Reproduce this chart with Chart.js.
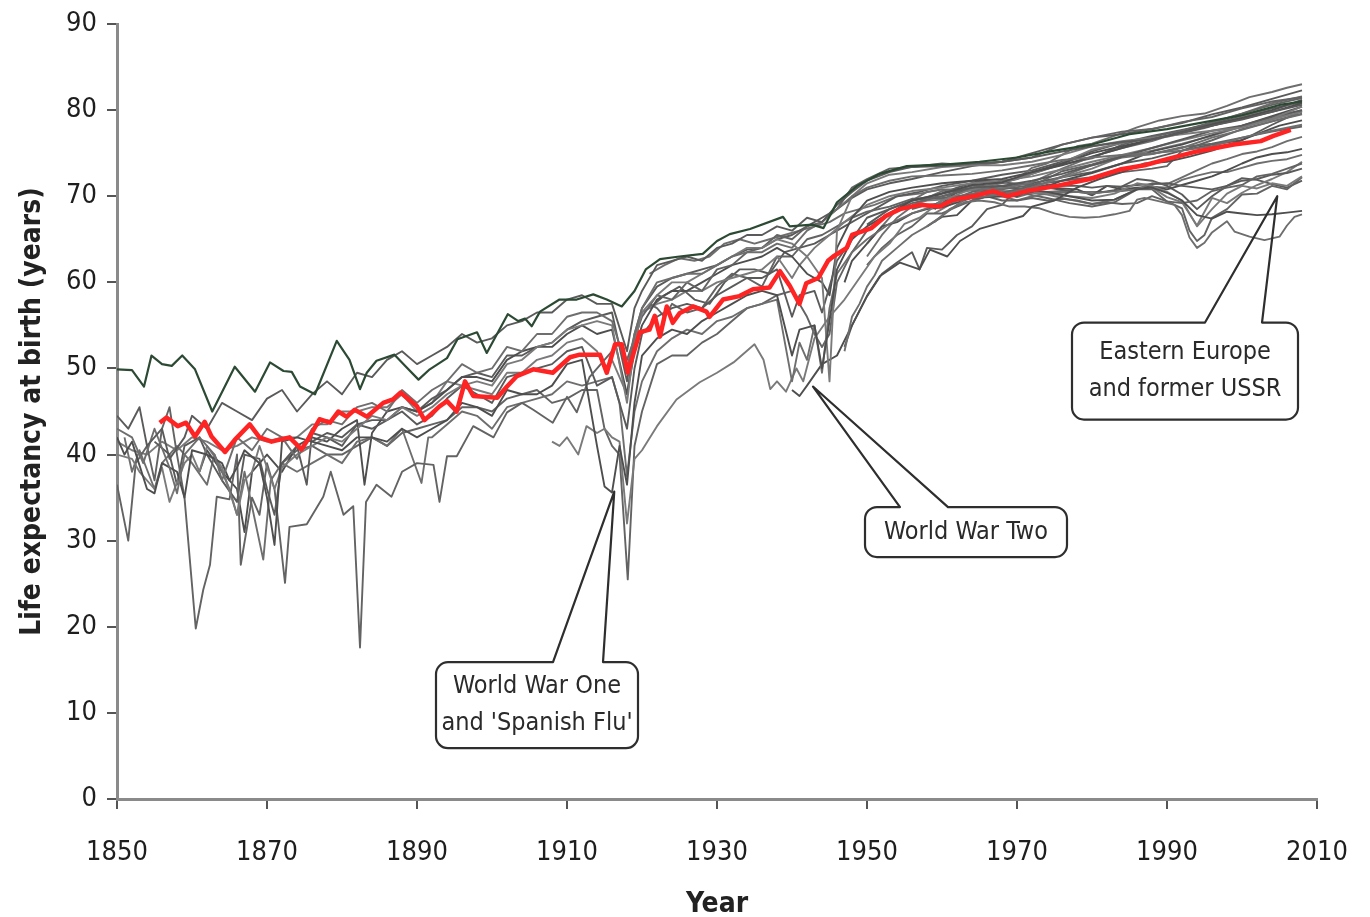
<!DOCTYPE html>
<html>
<head>
<meta charset="utf-8">
<script src="https://cdn.jsdelivr.net/npm/chart.js@4.4.1/dist/chart.umd.min.js"></script>
<style>
  html, body { margin: 0; padding: 0; background: #fff; }
  canvas { display: block; }
</style>
</head>
<body>
<canvas id="life-chart" width="1370" height="917"></canvas>
<script>
// axis ticks
const yearTicks = [1850, 1870, 1890, 1910, 1930, 1950, 1970, 1990, 2010];
const lifeTicks = [0, 10, 20, 30, 40, 50, 60, 70, 80, 90];

// highlighted series (red) - [year, life expectancy]
const redSeries = [[1855.7,43.7],[1856.6,44.3],[1858.1,43.3],[1859.2,43.7],[1860.4,42.1],[1861.7,43.8],[1862.6,42.1],[1864.4,40.3],[1865.7,41.7],[1867.7,43.5],[1869,42],[1870.6,41.5],[1873,42],[1874.6,40.6],[1875.5,41.8],[1877,44.1],[1878.4,43.7],[1879.5,45],[1880.6,44.4],[1881.7,45.2],[1883.3,44.4],[1885.5,46],[1886.8,46.4],[1887.8,47.2],[1890,45.6],[1891,44],[1893,45.6],[1894,46.2],[1895.3,45],[1896.4,48.5],[1897.5,46.8],[1900.7,46.6],[1902,47.9],[1903.3,49.1],[1905.5,49.9],[1908.1,49.5],[1910.4,51.3],[1911.7,51.6],[1914.4,51.6],[1915.3,49.5],[1916.4,52.8],[1917.3,52.8],[1918.1,49.5],[1919.7,54.2],[1921,54.5],[1921.7,56.1],[1922.4,53.7],[1923.3,57.2],[1924.1,55.3],[1925,56.4],[1926.8,57.2],[1928.6,56.6],[1929,56],[1930.8,58],[1933,58.4],[1934.8,59.2],[1937,59.4],[1938.4,61.3],[1939.7,59.6],[1941,57.5],[1941.9,59.9],[1943.5,60.5],[1944.8,62.5],[1945.5,63],[1947.3,64],[1948,65.5],[1950.6,66.3],[1952.5,67.7],[1954.4,68.5],[1957,69],[1959.7,68.8],[1961.5,69.6],[1964.2,70],[1966.8,70.6],[1968.7,70],[1971.3,70.6],[1975.3,71.2],[1979.7,72],[1983.7,73.1],[1987,73.6],[1990,74.3],[1994,75.2],[1998.9,76],[2002.5,76.4],[2004.2,77],[2006.5,77.7]];

// top series (dark green)
const greenSeries = [[1850,49.9],[1852,49.8],[1853.6,47.9],[1854.6,51.5],[1856,50.5],[1857.3,50.3],[1858.7,51.5],[1860.4,49.9],[1862.7,45],[1865.7,50.2],[1868.4,47.3],[1870.4,50.7],[1872.2,49.7],[1873.3,49.6],[1874.4,47.9],[1876.4,47],[1879.3,53.2],[1881,51],[1882.4,47.6],[1883.3,49.5],[1884.6,50.9],[1887,51.6],[1888.4,50.3],[1890.2,48.7],[1891.7,49.9],[1894,51.2],[1895.4,53.4],[1898,54.2],[1899.3,51.8],[1902.1,56.3],[1903.5,55.5],[1904.4,55.8],[1905.3,54.9],[1906.4,56.6],[1909,58],[1911.3,58],[1913.5,58.6],[1915.3,58],[1917.3,57.2],[1919,59],[1920.5,61.5],[1922.4,62.7],[1925,63],[1928.1,63.3],[1930,64.8],[1931.7,65.6],[1934.4,66.2],[1938.8,67.6],[1939.7,66.5],[1942.7,66.7],[1944.2,66.3],[1946,69.3],[1948.7,71.2],[1951.7,72.6],[1955.3,73.5],[1960.7,73.7],[1965,74],[1970,74.5],[1975,75.3],[1980,76],[1985,77.2],[1990,77.8],[1995,78.6],[2000,79.4],[2005,80.6],[2008,81]];

// other countries (grey)
const grey01 = [[1850,44.5],[1851.5,43],[1853,45.5],[1854,41],[1856,43],[1857,39.5],[1859,42],[1860,44.5],[1862,43],[1864,46],[1866,45],[1868,44],[1870,46.5],[1872,47.5],[1874,45],[1876,47],[1878,48.5],[1880,47],[1882,49.5],[1884,49],[1886,51],[1888,52],[1890,50.5],[1892,51.5],[1894,52.5],[1896,54],[1898,53],[1900,53.5],[1902,55],[1904,55.5],[1906,56.5],[1908,56.5],[1910,58],[1912,58.5],[1914,57.5],[1916,57.5],[1918,52],[1919,57],[1920,59],[1922,62],[1924,62.5],[1926,63],[1928,62.5],[1930,64],[1932,64.5],[1934,65.5],[1936,65.5],[1938,66.5],[1940,66],[1942,67.5],[1944,67],[1946,69],[1948,70.5],[1950,71.8],[1953,72.8],[1956,73.4],[1960,73.5],[1964,73.8],[1968,74],[1972,74.5],[1976,75.2],[1980,75.8],[1984,76.3],[1988,76.6],[1992,77.4],[1996,78.2],[2000,78.9],[2004,79.8],[2008,80.6]];
const grey02 = [[1850,43],[1852,42],[1853.5,39],[1855,43],[1857,38.5],[1858,35.5],[1859,40],[1861,42],[1863,40],[1864,37],[1866,42],[1868,40.5],[1870,43],[1872,42],[1874,39.5],[1876,43],[1878,44],[1880,43.5],[1882,45.5],[1884,46],[1886,45],[1888,47.5],[1890,46],[1892,47.5],[1894,48.5],[1896,50.5],[1898,49.5],[1900,50],[1902,52.5],[1904,52],[1906,54],[1908,54],[1910,56],[1912,56.5],[1914,56.5],[1916,55.5],[1918,50],[1919,54],[1920,57],[1922,60],[1924,60.5],[1926,61],[1928,61],[1930,62],[1932,63],[1934,63.5],[1936,63.5],[1938,64.5],[1940,64],[1942,66],[1944,67],[1946,68.5],[1948,70],[1950,71],[1953,71.8],[1956,72.3],[1960,72.4],[1964,72.6],[1968,73],[1972,73.6],[1976,74.2],[1980,74.5],[1984,74.8],[1988,75],[1992,75.3],[1996,75.8],[2000,76.8],[2004,77.6],[2008,78.3]];
const grey03 = [[1850,42],[1851,40],[1852,41.5],[1854,36],[1855,35.5],[1856,39],[1858,38],[1859,35],[1860,40.5],[1862,40],[1864,39],[1865,37],[1866,38.5],[1867,40.5],[1869,39],[1870,35],[1871,29.5],[1872,41.5],[1874,42],[1876,41.5],[1878,41],[1880,40.5],[1882,42],[1884,42],[1886,41.5],[1888,43],[1890,42],[1892,43],[1894,44],[1896,46],[1898,45.5],[1900,44.5],[1902,47.5],[1904,47],[1906,47],[1908,48],[1910,50.5],[1912,51],[1914,41],[1915,36.3],[1916,35.6],[1917,41],[1918,36.5],[1919,46],[1920,51.5],[1922,53.5],[1924,54.5],[1926,54],[1928,55.5],[1930,56.5],[1932,57.5],[1934,58.5],[1936,59],[1938,58.5],[1940,51.5],[1941,54.5],[1943,55],[1944,50],[1945,55.5],[1946,61.5],[1948,65],[1950,66.5],[1953,68],[1956,69.5],[1960,70.3],[1964,71.3],[1968,71.6],[1972,72.8],[1976,73.6],[1980,74.6],[1984,75.6],[1988,76.6],[1992,77.4],[1996,78.3],[2000,79.1],[2004,80],[2008,81.2]];
const grey04 = [[1850,40],[1852,39.5],[1853,38],[1855,36],[1856,38.5],[1857,34.5],[1859,39],[1860,40],[1861,38],[1862,41],[1864,38.5],[1866,33],[1867,37],[1868,38],[1869,41],[1871,36],[1872,38.5],[1874,40],[1876,41],[1878,42],[1880,41.5],[1882,43],[1884,44.5],[1886,44],[1888,45.5],[1890,44.5],[1892,45.5],[1894,47],[1896,48],[1898,48.5],[1900,48],[1902,50.5],[1904,51],[1906,52.5],[1908,53],[1910,54.5],[1912,55],[1914,55.5],[1916,55],[1918,46],[1919,53],[1920,56.5],[1922,58.5],[1924,60],[1926,60],[1928,61],[1930,62],[1932,63],[1934,64],[1936,64],[1938,65],[1940,64.5],[1942,63],[1944,60.5],[1945,48.5],[1946,66],[1948,70],[1950,71.5],[1953,72.5],[1956,72.8],[1960,73.4],[1964,73.6],[1968,73.6],[1972,74],[1976,74.8],[1980,75.8],[1984,76.4],[1988,76.8],[1992,77.2],[1996,77.6],[2000,78],[2004,79],[2008,80.4]];
const grey05 = [[1850,36.5],[1851.5,30],[1852.5,39],[1854,41],[1855,37],[1856,43],[1857,45.5],[1858,40],[1859,35],[1860.5,19.8],[1861.5,24.3],[1862.4,27.2],[1863.3,35.1],[1865,34.8],[1866,40],[1866.5,27.2],[1868,35],[1869,33],[1870,39],[1871,36],[1872.4,25.1],[1873,31.6],[1875.3,31.9],[1877.5,35.1],[1878.5,38],[1880.2,33],[1881.5,34],[1882.4,17.6],[1883.2,34.5],[1884.6,36.5],[1886.6,35.1],[1888,38],[1890,39],[1892.2,38.8],[1893,34.5],[1894,39.8],[1895.3,39.8],[1897.5,43.3],[1900.2,42],[1902,44.9],[1904,46],[1905.5,45.2],[1908.1,43.7],[1910,46.7],[1911.3,44.9],[1913,49],[1915,51],[1917,53],[1918,51],[1920,56],[1922,58.5],[1924,58],[1926,60],[1928,59],[1930,61.5],[1932,62],[1934,63.5],[1936,64],[1938,65.5],[1940,65],[1942,66.5],[1944,67],[1946,68.5],[1948,71],[1950,72],[1953,73.2],[1956,73.4],[1960,73.8],[1964,73.6],[1968,74],[1972,74.5],[1976,76],[1980,76.8],[1984,77.5],[1988,77.8],[1992,78.6],[1996,79.2],[2000,80.2],[2004,81],[2008,81.5]];
const grey06 = [[1855,41.5],[1857,40],[1858,36.5],[1859,41],[1861,42],[1862,40],[1864,37],[1866,34.5],[1867,40],[1869,39.5],[1870,36],[1871,33],[1872,39],[1874,41],[1875.3,36.5],[1876,42.5],[1878,42],[1880,41],[1882,43.5],[1884,43],[1886,44],[1888,45],[1890,43.5],[1892,44.5],[1894,46.5],[1896,48],[1898,47],[1900,46],[1902,49],[1904,49.5],[1906,50],[1908,50.5],[1910,52],[1912,52.5],[1914,48],[1916,49],[1918,43],[1919,50],[1920,54],[1922,56],[1924,57],[1926,57.5],[1928,57],[1930,58.5],[1932,59.5],[1934,60.5],[1936,60.5],[1938,61.5],[1940,56],[1941,58.5],[1943,59],[1944,56.5],[1946,62.5],[1948,65],[1950,67.5],[1953,68.5],[1956,69.5],[1960,70.3],[1964,71],[1968,71.2],[1972,71.8],[1976,72.6],[1980,73.6],[1984,74.6],[1988,75.6],[1992,76.6],[1996,77.6],[2000,78.2],[2004,79.2],[2008,80]];
const grey07 = [[1851,42],[1852,38],[1853,40.5],[1855,36],[1856,39],[1858,41],[1860,39],[1862,36.5],[1863,40],[1865,36],[1866,33],[1867,38],[1868,34],[1869.5,27.8],[1870.5,37],[1872,39],[1874,38],[1876,39],[1878,40],[1880,39],[1882,41.5],[1884,42],[1886,41],[1888,43],[1890.6,36.7],[1891.5,42],[1892,42],[1894,43.5],[1896,45],[1898,44.5],[1900,43],[1902,45.5],[1904,46],[1906,46.5],[1908,47],[1910,48.5],[1912,48],[1914,48.5],[1916,49],[1917,46],[1918,37.5],[1919,45],[1920,48.5],[1922,52],[1924,53.5],[1926,54.5],[1928,54],[1930,55.5],[1932,56],[1934,57],[1936,57.5],[1938,58],[1940,48.5],[1941,53],[1942,51],[1943,55],[1944,49.5],[1945,57],[1946,61],[1948,63.5],[1950,65],[1953,66.8],[1956,68],[1960,69.2],[1964,69.8],[1968,70.2],[1972,71],[1976,72.3],[1980,73.6],[1984,74.5],[1988,74.9],[1992,75.6],[1996,76.8],[2000,77.7],[2004,78.7],[2008,79.5]];
const grey08 = [[1861,38],[1862,40.5],[1864,38],[1866,36],[1867,31],[1868,38],[1870,40],[1872,38],[1874,41],[1876,42],[1878,41.5],[1880,43],[1882,44],[1883,36.5],[1884,42.5],[1886,45],[1888,45.5],[1890,45],[1892,46],[1894,47.5],[1896,49],[1898,49],[1900,48.5],[1902,51],[1904,52],[1906,52.5],[1908,52.5],[1910,54],[1912,55],[1914,54],[1916,54.5],[1918,47],[1919,52],[1920,55],[1922,58],[1924,59],[1926,59],[1928,60],[1930,61],[1932,62],[1934,62.5],[1936,63],[1938,64],[1940,63],[1942,61],[1944,60],[1945,58.5],[1946,64],[1948,67.5],[1950,69.5],[1953,70.5],[1956,71],[1960,71.5],[1964,71.8],[1968,72],[1972,72.8],[1976,73.8],[1980,75],[1984,75.8],[1988,76.6],[1992,77.4],[1996,78.2],[2000,79],[2004,79.8],[2008,80.8]];
const grey09 = [[1908,41.5],[1909,41],[1910,42],[1911.5,40],[1912.6,43.3],[1914,42.5],[1915,43],[1916,42],[1917,41.5],[1918,32],[1919,39.5],[1920,40.5],[1922,43.3],[1924.6,46.4],[1927.7,48.4],[1930,49.5],[1932.2,50.7],[1935,52.8],[1936.2,51],[1937.1,47.6],[1938,48.5],[1939.2,47.3],[1940.6,50],[1941.5,48.5],[1943,53.5],[1945,56],[1947,58],[1949,60.5],[1951,63],[1953,64.5],[1955,66.8],[1957,67.5],[1960,69.5],[1963,70.5],[1966,71.2],[1970,72],[1975,73.5],[1980,75.4],[1985,76.4],[1990,76.9],[1995,77.9],[2000,79.2],[2004,80],[2008,81.1]];
const grey10 = [[1872,39],[1874,40.5],[1876,41],[1878,40],[1880,40],[1882,41],[1884,42],[1886,41],[1888,42.5],[1890,43],[1892,43.5],[1894,44],[1896,45.5],[1898,45.5],[1900,45],[1902,46.5],[1904,47],[1906,47.5],[1908,46],[1910,46.5],[1912,47.5],[1914,47.5],[1915,43],[1916,41],[1917,40],[1918.1,25.5],[1919,41],[1920,45],[1922,50.5],[1924,51.5],[1926,51.5],[1928,53],[1930,54],[1932,55.5],[1934,57],[1936,57.5],[1938,58.5],[1940,59],[1942,56],[1943,54],[1944,52.5],[1945,54],[1946,60],[1948,63.5],[1950,66],[1953,68],[1956,69.2],[1960,70],[1964,71],[1968,71.5],[1972,72.6],[1976,73.7],[1980,74.4],[1984,76],[1988,76.9],[1992,77.6],[1996,78.6],[2000,79.6],[2004,80.6],[2008,81.4]];
const grey11 = [[1876,41.5],[1878,42.5],[1880,42],[1882,43.5],[1884,44],[1886,44],[1888,45.5],[1890,45],[1892,46.5],[1894,47.5],[1896,49],[1898,49.5],[1900,49],[1902,51.5],[1904,51.5],[1906,52.5],[1908,53],[1910,54.5],[1912,55.5],[1914,56],[1916,56.5],[1918,48.5],[1919,54],[1920,57],[1922,59.5],[1924,60.5],[1926,61],[1928,61.5],[1930,62],[1932,63],[1934,63.8],[1936,64],[1938,65],[1940,65.5],[1942,66.5],[1944,67.5],[1946,68.5],[1948,69.8],[1950,70.8],[1953,71.5],[1956,72],[1960,72.8],[1964,73.5],[1968,74],[1972,75],[1976,76],[1980,76.8],[1984,77.2],[1988,77.8],[1992,78.5],[1996,79.5],[2000,80.3],[2004,81.3],[2008,82.3]];
const grey12 = [[1947,52],[1948,56],[1949,57.5],[1950,59.5],[1951,60.8],[1952,62.5],[1954,64],[1956,65.5],[1958,66.5],[1960,67.7],[1962,69],[1964,70.2],[1966,71],[1968,71.8],[1970,72],[1972,73.3],[1974,73.8],[1976,74.8],[1978,75.8],[1980,76.1],[1983,77],[1986,78],[1989,78.8],[1992,79.3],[1995,79.6],[1998,80.5],[2001,81.5],[2004,82.1],[2006,82.6],[2008,83]];
const grey13 = [[1940,47.5],[1941,46.8],[1942,48],[1944,50.5],[1946,51.5],[1948,55],[1950,58.4],[1951.7,60.7],[1954.4,62.3],[1957,61.5],[1958.4,63.8],[1960.7,63],[1962.4,64.8],[1965,66.2],[1968.1,67],[1970.8,67.7],[1972,68.8],[1975,69.5],[1978,71],[1981,72],[1984,72.8],[1987,73.8],[1990,74],[1993,74.6],[1996,75.3],[1999,76.2],[2002,77.2],[2005,78.2],[2008,78.8]];
const grey14 = [[1850,41.5],[1852,40.5],[1854,40],[1856,41.5],[1858,40.5],[1860,42],[1862,41.5],[1864,40.5],[1866,41],[1868,42],[1870,41.5],[1872,42],[1874,42],[1876,43.5],[1878,43.5],[1880,45],[1882,45],[1884,45.5],[1886,45.5],[1888,47],[1890,45],[1892,46],[1894,48.5],[1896,48],[1898,47.5],[1900,47],[1902,49.5],[1904,49.5],[1906,51],[1908,51.5],[1910,53],[1912,53.5],[1914,52],[1915,50],[1916,51],[1918,47],[1919,53],[1920,56.5],[1922,57.5],[1924,58],[1926,59],[1928,59],[1930,60],[1932,60.5],[1934,61],[1936,61.5],[1938,63],[1940,60.5],[1941,62],[1943,64],[1945,65.5],[1947,67],[1950,69],[1953,70],[1956,70.6],[1960,71],[1964,71.5],[1968,71.8],[1972,72.3],[1976,73.1],[1980,74],[1984,74.8],[1988,75.6],[1992,76.5],[1996,77.3],[2000,78],[2004,78.9],[2008,79.8]];
const grey15 = [[1921,57.5],[1922,57],[1923,56],[1924,57.5],[1926,56.5],[1928,57],[1930,59.5],[1932,61],[1934,60.5],[1936,59.5],[1938,63],[1940,63],[1942,65],[1944,65.5],[1946,66.5],[1948,67.5],[1950,68.2],[1953,68.8],[1956,69.7],[1960,69.8],[1964,70.2],[1968,70.4],[1972,71.2],[1976,72.9],[1980,73.7],[1984,74.7],[1988,74.9],[1992,75.7],[1996,76.1],[2000,76.8],[2004,77.5],[2008,78.1]];
const grey16 = [[1921,57],[1923,58.5],[1925,59.5],[1927,58],[1929,57.5],[1931,60],[1933,61.5],[1935,61.5],[1937,61],[1939,63.5],[1941,64],[1943,64.5],[1945,65.5],[1947,66.5],[1949,67.5],[1951,68.5],[1954,70],[1957,70.5],[1960,71.2],[1964,71.8],[1968,72.5],[1972,73],[1976,74],[1980,75.2],[1984,76.2],[1988,77],[1992,77.7],[1996,78.4],[2000,79.3],[2004,80.2],[2008,80.9]];
const grey17 = [[1921,61],[1923,62],[1925,62.8],[1927,62.5],[1929,63],[1931,64.5],[1933,65],[1935,64.5],[1937,65],[1939,65.5],[1941,66],[1943,66.5],[1945,67],[1947,68],[1949,68.5],[1951,69],[1954,70],[1957,70.3],[1960,70.8],[1964,70.8],[1968,70.9],[1972,71.6],[1976,73.2],[1980,74.6],[1984,75.6],[1988,76.4],[1992,77.5],[1996,78.5],[2000,79.6],[2004,80.8],[2008,81.6]];
const grey18 = [[1947,60],[1948,62.5],[1950,64.5],[1952,66.5],[1954,67],[1956,68],[1958,68.5],[1960,68.7],[1964,69.8],[1968,70],[1972,70.5],[1976,71.8],[1980,72.7],[1984,73.8],[1988,75.2],[1992,76],[1996,77.1],[2000,78.2],[2004,79.3],[2008,80.4]];
const grey19 = [[1956,69],[1958,69.5],[1960,69.6],[1964,70.3],[1968,70.2],[1972,71],[1976,72.2],[1980,73.2],[1984,74.6],[1988,75.3],[1992,76.1],[1996,77],[2000,78.1],[2004,79],[2008,80]];
const grey20 = [[1956,68.5],[1958,69],[1960,69.2],[1964,70.5],[1968,70.8],[1972,71.3],[1976,71.8],[1980,72.2],[1984,72.8],[1988,73.2],[1990,73.5],[1992,75.3],[1996,76.5],[2000,77.8],[2004,78.7],[2008,79.6]];
const grey21 = [[1950,66.7],[1953,68.5],[1956,69.5],[1960,70],[1964,70.8],[1968,71.2],[1972,71.5],[1976,72.2],[1980,72.8],[1984,73.8],[1988,74.4],[1992,75.3],[1996,76],[2000,76.5],[2004,78.3],[2008,79.9]];

// eastern Europe and former USSR (grey)
const east01 = [[1959,67],[1961,68.5],[1963,69.3],[1965,69.5],[1967,69.3],[1969,68.8],[1971,68.8],[1973,68.6],[1975,68],[1977,67.6],[1979,67.5],[1981,67.6],[1983,67.9],[1985,68.3],[1986,69.6],[1987,69.8],[1989,69.4],[1991,69],[1992,67.8],[1993,65.2],[1994,64],[1995,64.6],[1996,65.8],[1998,67.1],[1999,65.9],[2001,65.3],[2003,64.9],[2005,65.3],[2006,66.6],[2007,67.6],[2008,67.9]];
const east02 = [[1959,68.5],[1962,70.5],[1965,71],[1968,71.2],[1971,70.8],[1974,70.5],[1977,70],[1980,69.5],[1983,69.6],[1986,70.8],[1988,71],[1990,70.4],[1992,69.5],[1994,67.8],[1996,67.4],[1998,68.2],[2000,68],[2002,67.8],[2004,67.9],[2006,68.1],[2008,68.3]];
const east03 = [[1959,69],[1962,70.5],[1965,71],[1968,71],[1971,70.8],[1974,70.3],[1977,70],[1980,69.8],[1983,70.3],[1986,71.5],[1988,71.2],[1990,70.5],[1992,69.5],[1994,66.5],[1996,68.5],[1998,70.3],[2000,71.2],[2002,70.9],[2004,71.5],[2006,71.2],[2008,72.3]];
const east04 = [[1950,62],[1952,64],[1954,65.5],[1956,66.5],[1958,68],[1960,68],[1962,68.8],[1964,69.5],[1966,70],[1968,69.5],[1970,69.5],[1972,69.8],[1974,69.5],[1976,69.7],[1978,69.5],[1980,69.1],[1982,69.3],[1984,69.1],[1986,69.2],[1988,70],[1990,69.4],[1992,69.2],[1994,69.5],[1996,70.6],[1998,71],[2000,71.3],[2002,72.3],[2004,72.6],[2006,73.2],[2008,73.8]];
const east05 = [[1947,52.5],[1948,55],[1950,58.4],[1952,61],[1954,62.3],[1956,63.5],[1957,61.5],[1958,64],[1960,63.8],[1962,65.5],[1964,66.5],[1966,68.5],[1968,69],[1970,70.8],[1972,71],[1974,71.3],[1976,71.2],[1978,71.2],[1980,71],[1982,71.2],[1984,71.1],[1986,71.3],[1988,71.4],[1990,71.5],[1992,71.2],[1994,71],[1996,70.8],[1998,71.2],[2000,71.8],[2002,72],[2004,72.5],[2006,72.7],[2008,73.2]];
const east06 = [[1950,64.5],[1952,66.5],[1954,68.5],[1956,69.5],[1958,70.5],[1960,70.8],[1962,70.5],[1964,70.8],[1966,70.4],[1968,70],[1970,69.5],[1972,70],[1974,70.3],[1976,70.4],[1978,70.5],[1980,70.3],[1982,70.5],[1984,70.6],[1986,70.8],[1988,71.5],[1990,71.4],[1992,72.2],[1994,73],[1996,73.8],[1998,74.3],[2000,74.9],[2002,75.2],[2004,75.7],[2006,76.4],[2008,76.9]];
const east07 = [[1958,66.5],[1960,67.6],[1962,67.8],[1964,69.5],[1966,70],[1968,70],[1970,70],[1972,70.8],[1974,71],[1976,70.9],[1978,70.8],[1980,70.1],[1982,71.2],[1984,70.8],[1986,71],[1988,71.1],[1990,70.8],[1992,71.3],[1994,71.8],[1996,72.3],[1998,73],[2000,73.8],[2002,74.5],[2004,74.9],[2006,75.1],[2008,75.5]];
const east08 = [[1959,68],[1962,69.5],[1965,70.5],[1968,70.6],[1971,70.5],[1974,70.2],[1977,69.6],[1980,69.1],[1983,69.6],[1986,70.8],[1988,71],[1990,69.9],[1992,69.3],[1994,66.6],[1996,69.8],[1998,69.2],[2000,70.4],[2002,71.3],[2004,72],[2006,72.8],[2008,74]];
const east09 = [[1959,69],[1962,70.5],[1965,70.8],[1968,70.5],[1971,70.3],[1974,69.8],[1977,69.2],[1980,68.8],[1983,69.3],[1986,70.8],[1988,70.8],[1990,69.4],[1992,68.6],[1993,66],[1994,64.8],[1995,65.5],[1996,67.5],[1998,68.5],[2000,70.2],[2002,70.3],[2004,71.2],[2006,70.8],[2008,72.2]];
const east10 = [[1959,70],[1962,71],[1965,71.8],[1968,71.6],[1971,71.4],[1974,71],[1977,70.6],[1980,70.3],[1983,70.7],[1986,72],[1988,71.8],[1990,71.2],[1992,70.2],[1994,68.5],[1996,70],[1998,71.2],[2000,72.1],[2002,71.9],[2004,71.4],[2006,71],[2008,71.8]];
const east11 = [[1950,63],[1952,65.5],[1954,67.5],[1956,68.8],[1958,69.8],[1960,70.6],[1962,70.8],[1964,71.2],[1966,71.2],[1968,70.6],[1970,69.9],[1972,70.4],[1974,70.5],[1976,70.6],[1978,70.5],[1980,70.5],[1982,70.5],[1984,70.8],[1986,70.9],[1988,71.1],[1990,71],[1992,71.9],[1994,72.4],[1996,72.8],[1998,72.8],[2000,73.3],[2002,73.8],[2004,74.1],[2006,74.3],[2008,74.8]];

const greySeries = [grey01, grey02, grey03, grey04, grey05, grey06, grey07, grey08, grey09, grey10, grey11,
  grey12, grey13, grey14, grey15, grey16, grey17, grey18, grey19, grey20, grey21,
  east01, east02, east03, east04, east05, east06, east07, east08, east09, east10, east11];

// callouts: text lines and the point each one points at [year, value]
const calloutTexts = [['World War One', "and 'Spanish Flu'"], ['World War Two'], ['Eastern Europe', 'and former USSR']];
const calloutTips = [[1916.3, 35.7], [1942.8, 47.9], [2004.7, 70]];

const greyShades = ['#5a5a5a', '#6e6e6e', '#4e4e4e', '#7a7a7a', '#636363'];
const tickFont = { family: "'DejaVu Sans Condensed', sans-serif", size: 27 };
const titleFont = { family: "'DejaVu Sans Condensed', sans-serif", size: 28, weight: 'bold' };

function toPoints(series) {
  return series.map(([x, y]) => ({ x, y }));
}

const datasets = [
  { data: toPoints(redSeries), borderColor: '#ff2424', borderWidth: 4.5 },
  { data: toPoints(greenSeries), borderColor: '#2c4a33', borderWidth: 2.2 },
];
greySeries.forEach((series, i) => {
  datasets.push({ data: toPoints(series), borderColor: greyShades[i % greyShades.length], borderWidth: 1.9 });
});

// box placement for each callout (centre in data units, size in px, anchor offsets on the top edge)
const calloutBoxes = [
  { cx: 1906.0, cy: 10.9, w: 202, h: 86, a1: 117, a2: 167 },
  { cx: 1963.2, cy: 31.0, w: 202, h: 50, a1: 35, a2: 83 },
  { cx: 1992.4, cy: 49.7, w: 226, h: 97, a1: 133, a2: 190 },
];

const calloutPlugin = {
  id: 'callouts',
  afterDraw(chart) {
    const { ctx, scales: { x, y } } = chart;
    ctx.save();
    calloutBoxes.forEach((box, i) => {
      const cx = x.getPixelForValue(box.cx);
      const cy = y.getPixelForValue(box.cy);
      const left = cx - box.w / 2, top = cy - box.h / 2;
      const right = left + box.w, bottom = top + box.h;
      const r = 12;
      const tx = x.getPixelForValue(calloutTips[i][0]);
      const ty = y.getPixelForValue(calloutTips[i][1]);

      // white inside of the box
      ctx.beginPath();
      ctx.roundRect(left, top, box.w, box.h, r);
      ctx.fillStyle = '#fff';
      ctx.fill();

      // bubble outline with the pointer
      ctx.beginPath();
      ctx.moveTo(left + box.a2, top);
      ctx.lineTo(right - r, top);
      ctx.arcTo(right, top, right, top + r, r);
      ctx.lineTo(right, bottom - r);
      ctx.arcTo(right, bottom, right - r, bottom, r);
      ctx.lineTo(left + r, bottom);
      ctx.arcTo(left, bottom, left, bottom - r, r);
      ctx.lineTo(left, top + r);
      ctx.arcTo(left, top, left + r, top, r);
      ctx.lineTo(left + box.a1, top);
      ctx.lineTo(tx, ty);
      ctx.closePath();
      ctx.strokeStyle = '#2e2e2e';
      ctx.lineWidth = 2.2;
      ctx.lineJoin = 'round';
      ctx.stroke();

      // text
      const lines = calloutTexts[i];
      ctx.fillStyle = '#2a2a2a';
      ctx.font = "25px 'DejaVu Sans Condensed', sans-serif";
      ctx.textAlign = 'center';
      ctx.textBaseline = 'middle';
      const lh = 37;
      lines.forEach((line, j) => {
        ctx.fillText(line, cx, cy + (j - (lines.length - 1) / 2) * lh);
      });
    });
    ctx.restore();
  }
};

new Chart(document.getElementById('life-chart'), {
  type: 'line',
  data: { datasets },
  options: {
    responsive: false,
    animation: false,
    devicePixelRatio: 1,
    layout: { padding: { top: 24, right: 53, left: 0, bottom: 0 } },
    elements: {
      point: { radius: 0 },
      line: { tension: 0, borderJoinStyle: 'round', fill: false },
    },
    plugins: { legend: { display: false }, tooltip: { enabled: false } },
    scales: {
      x: {
        type: 'linear',
        min: 1850,
        max: 2010,
        afterBuildTicks: (scale) => { scale.ticks = yearTicks.map((v) => ({ value: v })); },
        afterFit: (scale) => { scale.height = 118; scale.paddingLeft = 0; scale.paddingRight = 0; },
        ticks: { font: tickFont, color: '#1e1e1e', padding: 28, maxRotation: 0, callback: (v) => String(v) },
        grid: { drawOnChartArea: false, drawTicks: true, tickLength: 10, color: '#555', lineWidth: 2 },
        border: { display: true, color: '#8a8a8a', width: 3 },
        title: { display: true, text: 'Year', font: { ...titleFont, lineHeight: 0.8 }, color: '#222', padding: { top: 0, bottom: 1 } },
      },
      y: {
        min: 0,
        max: 90,
        afterBuildTicks: (scale) => { scale.ticks = lifeTicks.map((v) => ({ value: v })); },
        afterFit: (scale) => { scale.width = 117; scale.paddingTop = 0; scale.paddingBottom = 0; },
        ticks: { font: tickFont, color: '#1e1e1e', padding: 10 },
        grid: { drawOnChartArea: false, drawTicks: true, tickLength: 10, color: '#555', lineWidth: 2 },
        border: { display: true, color: '#8a8a8a', width: 3 },
        title: { display: true, text: 'Life expectancy at birth (years)', font: titleFont, color: '#222', padding: { top: 16, bottom: 0 } },
      },
    },
  },
  plugins: [calloutPlugin],
});
</script>
</body>
</html>
